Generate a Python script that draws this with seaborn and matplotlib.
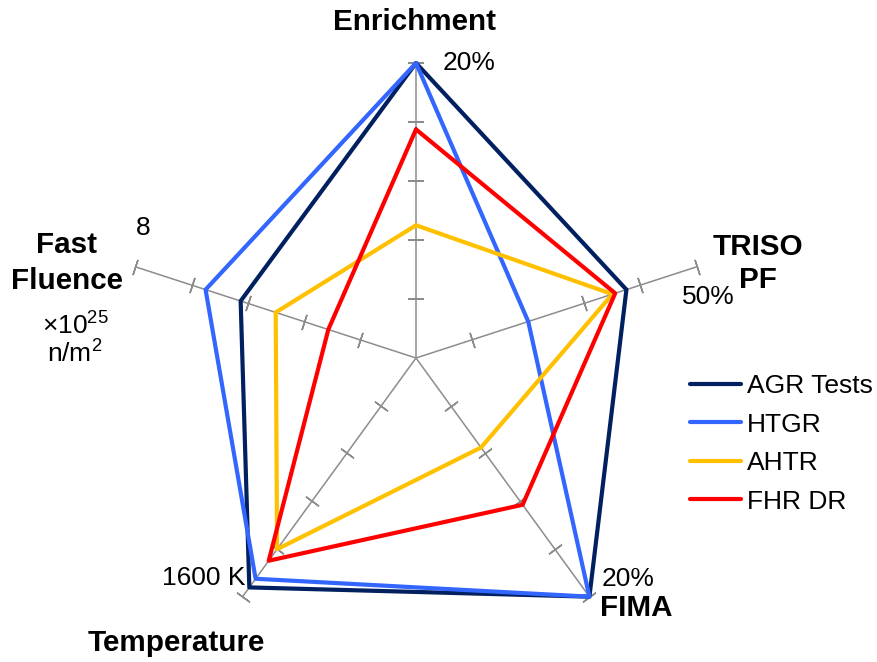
import numpy as np
import pandas as pd
import matplotlib
matplotlib.use("Agg")
import matplotlib.pyplot as plt
import seaborn as sns

# ---- data ----
axes_names = ["Enrichment", "TRISO PF", "FIMA", "Temperature", "Fast Fluence"]
axes_max = [20.0, 50.0, 20.0, 1600.0, 8.0]
series_names = ["AGR Tests", "HTGR", "AHTR", "FHR DR"]
agr_tests = [20.0, 37.5, 20.0, 1538.0, 5.0]
htgr = [20.0, 20.0, 20.0, 1480.0, 6.0]
ahtr = [9.0, 35.0, 7.5, 1282.0, 4.0]
fhr_dr = [15.5, 35.5, 12.3, 1359.0, 2.5]
series_values = [agr_tests, htgr, ahtr, fhr_dr]
colors = ["#002060", "#3366FF", "#FFC000", "#FF0000"]
max_labels = ["20%", "50%", "20%", "1600 K", "8"]
n_ticks = 5

sns.set_theme(style="white")
plt.rcParams["font.family"] = ["Liberation Sans", "DejaVu Sans"]
plt.rcParams["mathtext.default"] = "regular"
plt.rcParams["text.color"] = "black"

W, H = 878, 662
fig = plt.figure(figsize=(W / 100, H / 100), dpi=100)
cx, cy, R = 416, 358, 295
ax = fig.add_axes([(cx - R) / W, (H - cy - R) / H, 2 * R / W, 2 * R / H],
                  projection="polar")
ax.set_theta_offset(np.pi / 2)
ax.set_theta_direction(-1)

n = len(axes_names)
thetas = np.arange(n) * 2 * np.pi / n

rows = []
for name, vals in zip(series_names, series_values):
    fr = [v / m for v, m in zip(vals, axes_max)]
    for k in range(n + 1):
        i = k % n
        rows.append({"series": name, "theta": thetas[i] + (2 * np.pi if k == n else 0),
                     "r": fr[i], "order": k})
df = pd.DataFrame(rows)

# spokes with tick marks
spoke_col = "#8C8C8C"
tick_r = np.arange(1, n_ticks + 1) / n_ticks
for i, th in enumerate(thetas):
    ax.plot([th, th], [0, 1], color=spoke_col, lw=1.1, clip_on=False, zorder=1)
    disp_ang = 90 - 72 * i
    ax.plot(np.full(n_ticks, th), tick_r, ls="none",
            marker=(2, 2, disp_ang), markersize=11.5, markeredgewidth=1.1,
            color=spoke_col, clip_on=False, zorder=1)

sns.lineplot(data=df, x="theta", y="r", hue="series", hue_order=series_names,
             palette=colors, sort=False, estimator=None, linewidth=3.0, ax=ax)
for ln in ax.lines:
    ln.set_clip_on(False)

ax.set_ylim(0, 1)
ax.set_xticks([])
ax.set_yticks([])
ax.grid(False)
ax.spines["polar"].set_visible(False)
ax.patch.set_visible(False)
ax.set_xlabel("")
ax.set_ylabel("")

handles, labels = ax.get_legend_handles_labels()
if ax.get_legend() is not None:
    ax.get_legend().remove()
for h in handles:
    h.set_linewidth(3.0)
    h.set_solid_capstyle("round")
leg = fig.legend(handles, labels, loc="upper left",
                 bbox_to_anchor=(690 / W, 1 - 374 / H), frameon=False,
                 fontsize=19, handlelength=1.95, handletextpad=0.2,
                 labelspacing=0.55, borderaxespad=0, borderpad=0)
for t in leg.get_texts():
    t.set_color("black")


def px(x, y):
    return x / W, 1 - y / H


bold = dict(fontsize=21.3, fontweight="bold", color="black")
norm = dict(fontsize=19, color="black")

fig.text(*px(415, 22), "Enrichment", ha="center", va="center", **bold)
fig.text(*px(443, 63), max_labels[0], ha="left", va="center", **norm)
fig.text(*px(758, 247), "TRISO", ha="center", va="center", **bold)
fig.text(*px(758, 280), "PF", ha="center", va="center", **bold)
fig.text(*px(708, 297), max_labels[1], ha="center", va="center", **norm)
fig.text(*px(602, 579), max_labels[2], ha="left", va="center", **norm)
fig.text(*px(600, 608), "FIMA", ha="left", va="center", **bold)
fig.text(*px(245, 578), max_labels[3], ha="right", va="center", **norm)
fig.text(*px(176, 643), "Temperature", ha="center", va="center", **bold)
fig.text(*px(143, 228), max_labels[4], ha="center", va="center", **norm)
fig.text(*px(67, 245), "Fast", ha="center", va="center", **bold)
fig.text(*px(67, 281), "Fluence", ha="center", va="center", **bold)
fig.text(*px(75, 326), "×10$^{25}$", ha="center", va="center", **norm)
fig.text(*px(75, 354), "n/m$^{2}$", ha="center", va="center", **norm)

fig.savefig("out.png", dpi=100)
